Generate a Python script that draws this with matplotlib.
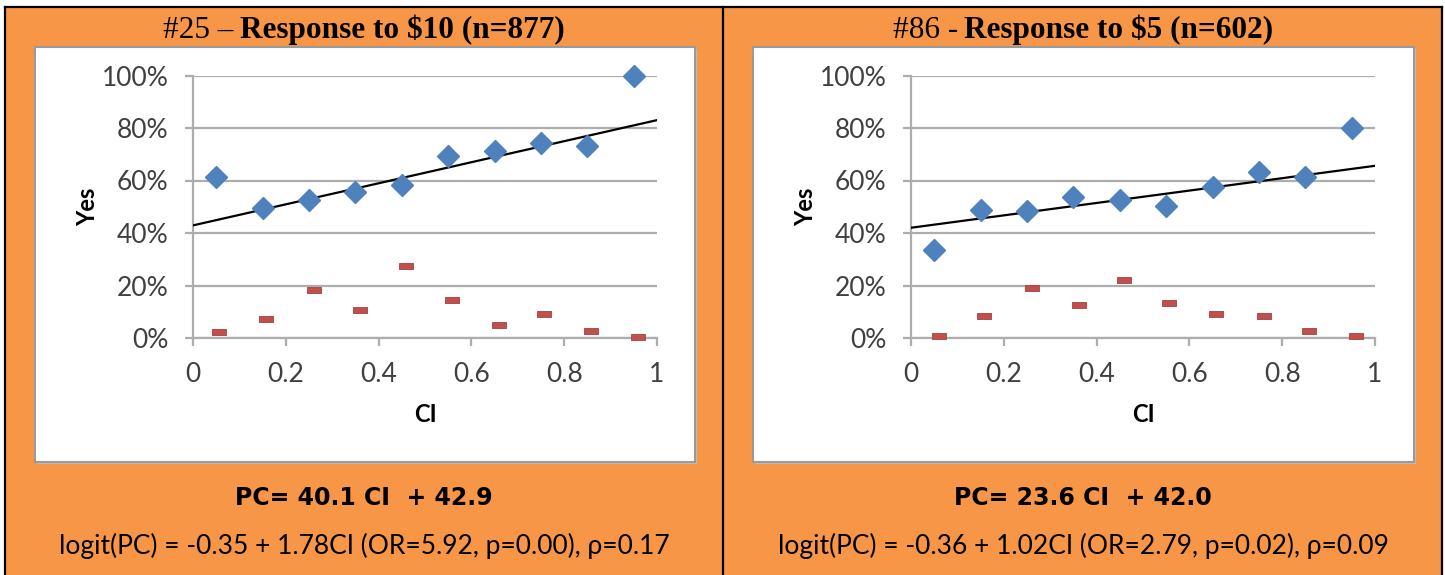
import numpy as np
import matplotlib
matplotlib.use('Agg')
import matplotlib.pyplot as plt
from matplotlib.patches import Rectangle
from matplotlib.lines import Line2D

# data
ci = [0.05, 0.15, 0.25, 0.35, 0.45, 0.55, 0.65, 0.75, 0.85, 0.95]

yes_25 = [0.613, 0.497, 0.526, 0.556, 0.581, 0.694, 0.714, 0.742, 0.732, 1.000]
share_x_25 = [0.057, 0.157, 0.261, 0.360, 0.458, 0.558, 0.659, 0.757, 0.858, 0.958]
share_25 = [0.023, 0.074, 0.182, 0.108, 0.275, 0.143, 0.051, 0.091, 0.028, 0.003]

yes_86 = [0.334, 0.487, 0.484, 0.536, 0.525, 0.503, 0.574, 0.631, 0.612, 0.800]
share_x_86 = [0.061, 0.157, 0.260, 0.361, 0.458, 0.557, 0.658, 0.761, 0.857, 0.958]
share_86 = [0.008, 0.084, 0.192, 0.124, 0.222, 0.134, 0.091, 0.084, 0.028, 0.008]

fit_25 = (0.401, 0.429)
fit_86 = (0.236, 0.420)

titles_reg = ["#25 \u2013", "#86 -"]
titles_bold = ["Response to $10 (n=877)", "Response to $5 (n=602)"]
eq_lines = ["PC= 40.1 CI  + 42.9", "PC= 23.6 CI  + 42.0"]
logit_lines = ["logit(PC) = -0.35 + 1.78CI (OR=5.92, p=0.00), \u03c1=0.17",
               "logit(PC) = -0.36 + 1.02CI (OR=2.79, p=0.02), \u03c1=0.09"]

W, H = 1445, 575
ORANGE = '#F79646'
BLUE = '#4F81BD'
RED = '#C0504D'
GRID = '#ADADAD'
TXT = '#404040'
SANS = ['Lato', 'DejaVu Sans']

fig = plt.figure(figsize=(W / 100, H / 100), dpi=100)
fig.patch.set_facecolor('white')


def fx(x):
    return x / W


def fy(y):
    return 1 - y / H


# orange background + black frame lines
fig.add_artist(Rectangle((fx(5), 0), fx(1442 - 5), fy(7), transform=fig.transFigure,
                         facecolor=ORANGE, edgecolor='none', zorder=0))
for xs, ys in [([5, 1442], [7, 7]), ([5, 5], [7, 575]), ([723, 723], [7, 575]),
               ([1442, 1442], [7, 575])]:
    fig.add_artist(Line2D([fx(v) for v in xs], [fy(v) for v in ys],
                          transform=fig.transFigure, color='black', lw=1.6, zorder=1))

# white chart boxes
boxes = [(35, 47, 695, 462), (753, 47, 1414, 462)]
for (x0, y0, x1, y1) in boxes:
    fig.add_artist(Rectangle((fx(x0) + 0.0012, fy(y1) - 0.003), fx(x1 - x0), fy(y0) - fy(y1),
                             transform=fig.transFigure, facecolor='#BDBDBD',
                             edgecolor='none', zorder=1))
    fig.add_artist(Rectangle((fx(x0), fy(y1)), fx(x1 - x0), fy(y0) - fy(y1),
                             transform=fig.transFigure, facecolor='white',
                             edgecolor='#9A9A9A', lw=1.5, zorder=1))

axes_px = [(193, 657), (911, 1375)]
panel_cx = [364, 1083]
renderer = fig.canvas.get_renderer()

panels = [(yes_25, share_x_25, share_25, fit_25), (yes_86, share_x_86, share_86, fit_86)]

for i, (yes, sx, sh, fit) in enumerate(panels):
    x0, x1 = axes_px[i]
    ax = fig.add_axes([fx(x0), fy(338), fx(x1 - x0), fy(75.5) - fy(338)])
    ax.set_facecolor('none')
    ax.set_zorder(3)
    ax.set_xlim(0, 1)
    ax.set_ylim(0, 1)
    ax.set_yticks([0, 0.2, 0.4, 0.6, 0.8, 1.0])
    ax.set_yticklabels(['0%', '20%', '40%', '60%', '80%', '100%'])
    ax.set_xticks([0, 0.2, 0.4, 0.6, 0.8, 1.0])
    ax.set_xticklabels(['0', '0.2', '0.4', '0.6', '0.8', '1'])
    ax.grid(axis='y', color=GRID, lw=1.6)
    ax.set_axisbelow(True)
    for s in ['top', 'right']:
        ax.spines[s].set_visible(False)
    for s in ['left', 'bottom']:
        ax.spines[s].set_color(GRID)
        ax.spines[s].set_linewidth(1.6)
    ax.tick_params(direction='out', length=5.5, width=1.6, color=GRID,
                   labelsize=19, labelcolor=TXT, pad=12)
    for lab in ax.get_xticklabels() + ax.get_yticklabels():
        lab.set_family(SANS)

    xx = np.array([0.0, 1.0])
    ax.plot(xx, fit[0] * xx + fit[1], color='black', lw=1.6, zorder=3)
    ax.plot(ci, yes, linestyle='none', marker='D', markersize=11, color=BLUE,
            markeredgecolor=BLUE, clip_on=False, zorder=4)
    dash = [(-1, -0.5), (1, -0.5), (1, 0.5), (-1, 0.5), (-1, -0.5)]
    ax.plot(sx, sh, linestyle='none', marker=dash, markersize=9.5, color=RED,
            markeredgecolor='#A83F3C', markeredgewidth=0.6, clip_on=False, zorder=4)

    ax.text(-0.228, 0.5, 'Yes', transform=ax.transAxes, rotation=90, ha='center',
            va='center', fontsize=17, fontweight='bold', family=SANS, color='black')
    ax.text(0.5, -0.29, 'CI', transform=ax.transAxes, ha='center', va='center',
            fontsize=17, fontweight='bold', family=SANS, color='black')

    # title: regular part + bold part, centred together
    t1 = fig.text(0, fy(38), titles_reg[i], fontsize=22.5, family='Liberation Serif',
                  va='baseline', ha='left')
    t2 = fig.text(0, fy(38), titles_bold[i], fontsize=22.5, family='Liberation Serif',
                  fontweight='bold', va='baseline', ha='left')
    w1 = t1.get_window_extent(renderer).width
    w2 = t2.get_window_extent(renderer).width
    gap = 6
    start = panel_cx[i] - (w1 + gap + w2) / 2
    t1.set_x(fx(start))
    t2.set_x(fx(start + w1 + gap))

    fig.text(fx(panel_cx[i]), fy(498), eq_lines[i], ha='center', va='center',
             fontsize=17, fontweight='bold', family='DejaVu Sans', color='black')
    fig.text(fx(panel_cx[i]), fy(546), logit_lines[i], ha='center', va='center',
             fontsize=19, family=SANS, color='black')

fig.savefig('out.png', dpi=100)
